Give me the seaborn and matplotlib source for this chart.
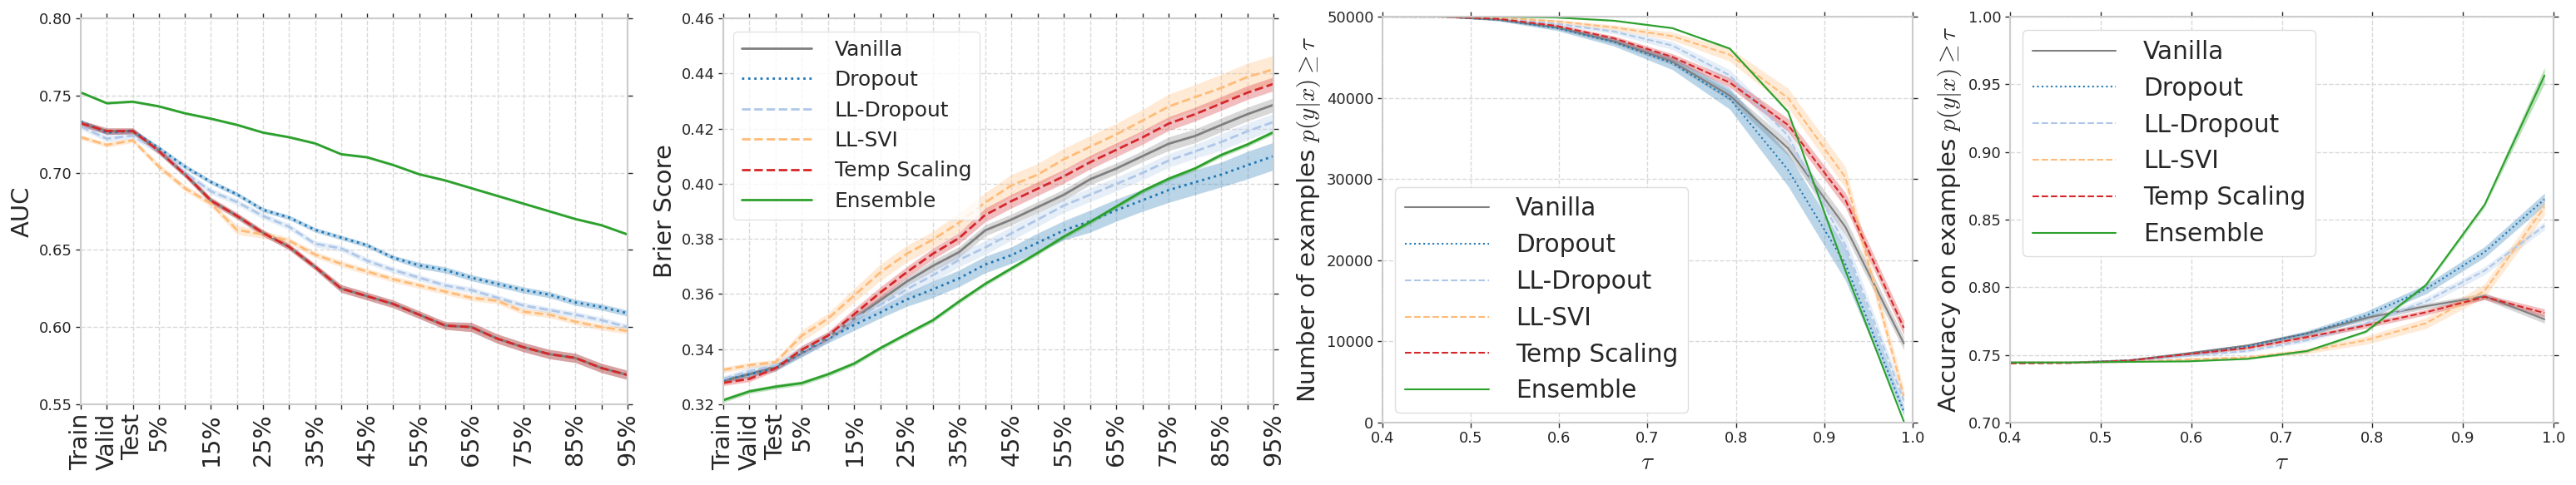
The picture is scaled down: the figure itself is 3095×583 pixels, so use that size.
import numpy as np
import seaborn as sns
from matplotlib import pyplot as plt

# methods and their look
methods = ["Vanilla", "Dropout", "LL-Dropout", "LL-SVI", "Temp Scaling", "Ensemble"]
colors = ["#7f7f7f", "#1f77b4", "#aec7e8", "#ffbb78", "#d62728", "#2ca02c"]
styles = ["-", ":", "--", "--", "--", "-"]

# shift levels (panels 1 and 2)
shift_labels = ["Train", "Valid", "Test", "5%", "", "15%", "", "25%", "", "35%", "", "45%",
                "", "55%", "", "65%", "", "75%", "", "85%", "", "95%"]

# AUC
auc_vanilla = [0.732, 0.727, 0.727, 0.714, 0.699, 0.682, 0.672, 0.661, 0.652, 0.639, 0.625,
               0.620, 0.615, 0.608, 0.601, 0.600, 0.5925, 0.587, 0.5825, 0.580, 0.5735, 0.569]
auc_dropout = [0.733, 0.726, 0.727, 0.716, 0.704, 0.694, 0.686, 0.676, 0.671, 0.663, 0.658,
               0.653, 0.645, 0.640, 0.637, 0.632, 0.628, 0.624, 0.621, 0.616, 0.613, 0.609]
auc_ll_dropout = [0.730, 0.722, 0.724, 0.714, 0.700, 0.688, 0.681, 0.672, 0.665, 0.654, 0.651,
                  0.643, 0.637, 0.632, 0.627, 0.624, 0.619, 0.614, 0.611, 0.608, 0.6045, 0.600]
auc_ll_svi = [0.723, 0.718, 0.721, 0.704, 0.690, 0.680, 0.663, 0.660, 0.656, 0.647, 0.641,
              0.636, 0.631, 0.627, 0.623, 0.619, 0.617, 0.610, 0.608, 0.6035, 0.600, 0.5975]
auc_temp = [0.732, 0.727, 0.727, 0.714, 0.699, 0.682, 0.672, 0.661, 0.652, 0.639, 0.625,
            0.620, 0.615, 0.608, 0.601, 0.600, 0.5925, 0.587, 0.5825, 0.580, 0.5735, 0.569]
auc_ensemble = [0.752, 0.745, 0.746, 0.743, 0.7385, 0.735, 0.731, 0.726, 0.723, 0.719, 0.712,
                0.710, 0.705, 0.699, 0.695, 0.690, 0.685, 0.680, 0.675, 0.670, 0.666, 0.660]

# AUC band half widths
auc_vanilla_sd = [0.002, 0.002, 0.002, 0.002, 0.002, 0.002, 0.002, 0.002, 0.002, 0.002, 0.0025,
                  0.0025, 0.0025, 0.0025, 0.0025, 0.003, 0.003, 0.003, 0.003, 0.003, 0.003, 0.003]
auc_dropout_sd = [0.0015, 0.0015, 0.0015, 0.0015, 0.0015, 0.0015, 0.0015, 0.0015, 0.0015, 0.0015,
                  0.0015, 0.0015, 0.0015, 0.002, 0.002, 0.002, 0.002, 0.002, 0.002, 0.002, 0.002, 0.002]
auc_ll_dropout_sd = [0.002, 0.002, 0.002, 0.002, 0.002, 0.002, 0.002, 0.002, 0.002, 0.002, 0.002,
                     0.002, 0.002, 0.002, 0.002, 0.002, 0.002, 0.002, 0.002, 0.002, 0.002, 0.002]
auc_ll_svi_sd = [0.0015, 0.0015, 0.0015, 0.002, 0.002, 0.002, 0.003, 0.0025, 0.002, 0.002, 0.002,
                 0.002, 0.002, 0.002, 0.002, 0.002, 0.002, 0.002, 0.002, 0.002, 0.002, 0.002]
auc_temp_sd = [0.002, 0.002, 0.002, 0.002, 0.002, 0.002, 0.002, 0.002, 0.002, 0.002, 0.0025,
               0.0025, 0.0025, 0.0025, 0.0025, 0.003, 0.003, 0.003, 0.003, 0.003, 0.003, 0.003]
auc_ensemble_sd = [0.0008] * 22

# Brier score
brier_vanilla = [0.3286, 0.3309, 0.3337, 0.3389, 0.3443, 0.3511, 0.3578, 0.3645, 0.3702, 0.3752,
                 0.3831, 0.3870, 0.3915, 0.3960, 0.4016, 0.4055, 0.4100, 0.4145, 0.4173, 0.4213,
                 0.4252, 0.4286]
brier_dropout = [0.3288, 0.3309, 0.3331, 0.3387, 0.3438, 0.3488, 0.3533, 0.3580, 0.3617, 0.3657,
                 0.3707, 0.3741, 0.3786, 0.3831, 0.3864, 0.3904, 0.3940, 0.3977, 0.4005, 0.4033,
                 0.4067, 0.4100]
brier_ll_dropout = [0.3292, 0.3320, 0.3342, 0.3393, 0.3443, 0.3511, 0.3561, 0.3617, 0.3668, 0.3724,
                    0.3769, 0.3820, 0.3870, 0.3921, 0.3960, 0.3999, 0.4039, 0.4084, 0.4117, 0.4151,
                    0.4190, 0.4224]
brier_ll_svi = [0.3325, 0.3342, 0.3353, 0.3449, 0.3511, 0.3595, 0.3679, 0.3746, 0.3797, 0.3859,
                0.3932, 0.3994, 0.4033, 0.4089, 0.4134, 0.4179, 0.4229, 0.4280, 0.4314, 0.4347,
                0.4387, 0.4415]
brier_temp = [0.3278, 0.3292, 0.3331, 0.3398, 0.3449, 0.3527, 0.3606, 0.3679, 0.3746, 0.3803,
              0.3887, 0.3937, 0.3982, 0.4027, 0.4078, 0.4123, 0.4168, 0.4218, 0.4252, 0.4291,
              0.4330, 0.4362]
brier_ensemble = [0.3215, 0.3247, 0.3264, 0.3277, 0.3309, 0.3348, 0.3404, 0.3455, 0.3505, 0.3573,
                  0.3637, 0.3693, 0.3749, 0.3808, 0.3861, 0.3917, 0.3973, 0.4018, 0.4055, 0.4104,
                  0.4142, 0.4187]

brier_vanilla_sd = [0.001, 0.001, 0.001, 0.0015, 0.0015, 0.0015, 0.0015, 0.0015, 0.002, 0.002, 0.002,
                    0.002, 0.002, 0.002, 0.002, 0.002, 0.002, 0.0025, 0.0025, 0.0025, 0.0025, 0.0025]
brier_dropout_sd = [0.0008, 0.001, 0.001, 0.0015, 0.0015, 0.002, 0.002, 0.0025, 0.003, 0.003, 0.003,
                    0.003, 0.0035, 0.0035, 0.004, 0.004, 0.004, 0.0045, 0.0045, 0.0045, 0.005, 0.005]
brier_ll_dropout_sd = [0.001, 0.0015, 0.0015, 0.002, 0.002, 0.002, 0.0025, 0.0025, 0.0025, 0.0025,
                       0.0025, 0.0025, 0.0025, 0.0025, 0.0025, 0.0025, 0.0025, 0.0025, 0.0025, 0.003,
                       0.003, 0.003]
brier_ll_svi_sd = [0.001, 0.001, 0.001, 0.002, 0.002, 0.0025, 0.003, 0.003, 0.003, 0.0035, 0.0035,
                   0.004, 0.004, 0.004, 0.004, 0.004, 0.004, 0.0045, 0.0045, 0.005, 0.005, 0.005]
brier_temp_sd = [0.001, 0.001, 0.001, 0.0015, 0.0015, 0.002, 0.002, 0.002, 0.002, 0.002, 0.0025,
                 0.0025, 0.0025, 0.0025, 0.0025, 0.0025, 0.0025, 0.0025, 0.0025, 0.0025, 0.0025, 0.0025]
brier_ensemble_sd = [0.0008] * 22

# confidence thresholds (panels 3 and 4)
tau = [0.4, 0.466, 0.531, 0.597, 0.662, 0.728, 0.793, 0.859, 0.924, 0.99]

count_vanilla = [50000, 49990, 49620, 48670, 46950, 44470, 40280, 33790, 24070, 9760]
count_dropout = [50000, 49990, 49620, 48590, 46870, 44280, 39900, 31120, 19500, 1370]
count_ll_dropout = [50000, 50000, 49810, 49120, 48170, 46450, 42760, 35320, 21800, 2710]
count_ll_svi = [50000, 50000, 49890, 49430, 48670, 47600, 45310, 39970, 30170, 3280]
count_temp = [50000, 49990, 49730, 48860, 47330, 45040, 41880, 36650, 27390, 11670]
count_ensemble = [50000, 50000, 49990, 49890, 49500, 48590, 46070, 38290, 18700, 150]

count_vanilla_sd = [0, 0, 100, 200, 300, 400, 600, 900, 1000, 800]
count_dropout_sd = [0, 0, 150, 300, 500, 800, 1300, 2000, 2000, 600]
count_ll_dropout_sd = [0, 0, 100, 200, 300, 500, 700, 1000, 1200, 700]
count_ll_svi_sd = [0, 0, 100, 200, 300, 500, 800, 1200, 1300, 1000]
count_temp_sd = [0, 0, 100, 200, 300, 400, 600, 800, 900, 900]
count_ensemble_sd = [0, 0, 50, 50, 100, 100, 150, 200, 200, 150]

acc_vanilla = [0.7444, 0.7444, 0.7460, 0.7513, 0.7570, 0.7659, 0.7773, 0.7860, 0.7934, 0.7764]
acc_dropout = [0.7444, 0.7444, 0.7460, 0.7506, 0.7563, 0.7659, 0.7792, 0.7986, 0.8261, 0.8650]
acc_ll_dropout = [0.7444, 0.7444, 0.7453, 0.7494, 0.7529, 0.7609, 0.7734, 0.7895, 0.8123, 0.8455]
acc_ll_svi = [0.7444, 0.7444, 0.7449, 0.7467, 0.7483, 0.7529, 0.7609, 0.7734, 0.7975, 0.8592]
acc_temp = [0.7437, 0.7440, 0.7458, 0.7506, 0.7551, 0.7632, 0.7718, 0.7815, 0.7929, 0.7810]
acc_ensemble = [0.7444, 0.7444, 0.7449, 0.7453, 0.7471, 0.7529, 0.7673, 0.8016, 0.8611, 0.9565]

acc_vanilla_sd = [0, 0, 0.0005, 0.001, 0.001, 0.0015, 0.002, 0.002, 0.0025, 0.003]
acc_dropout_sd = [0, 0, 0.0005, 0.001, 0.0015, 0.002, 0.003, 0.0035, 0.004, 0.0045]
acc_ll_dropout_sd = [0, 0, 0.0005, 0.001, 0.001, 0.0015, 0.002, 0.003, 0.003, 0.003]
acc_ll_svi_sd = [0, 0, 0.0005, 0.001, 0.001, 0.002, 0.003, 0.004, 0.005, 0.006]
acc_temp_sd = [0, 0, 0.0005, 0.001, 0.001, 0.0015, 0.002, 0.002, 0.002, 0.003]
acc_ensemble_sd = [0, 0, 0.0003, 0.0005, 0.0005, 0.001, 0.001, 0.0015, 0.002, 0.006]

W, H = 3095, 583


def setup_style():
    sns.set_theme(style="whitegrid", rc={
        "grid.linestyle": "--", "grid.color": "#d9d9d9", "grid.linewidth": 1.0,
        "axes.edgecolor": "#cccccc", "axes.linewidth": 1.5,
        "xtick.bottom": True, "xtick.top": True, "ytick.left": True, "ytick.right": True,
        "xtick.major.size": 4, "ytick.major.size": 4,
        "xtick.major.width": 1.0, "ytick.major.width": 1.0,
        "xtick.color": "#262626", "ytick.color": "#262626",
        "text.color": "#262626", "axes.labelcolor": "#262626",
        "mathtext.fontset": "cm",
    })
    plt.rcParams["font.family"] = ["DejaVu Sans"]


def pixel_axes(fig, left, top, right, bottom):
    return fig.add_axes([left / W, (H - bottom) / H, (right - left) / W, (bottom - top) / H])


def draw_lines(ax, x, means, bands, lw):
    for name, color, ls in zip(methods, colors, styles):
        y = np.array(means[name])
        b = np.array(bands[name])
        ax.fill_between(x, y - b, y + b, color=color, alpha=0.3, lw=0)
        sns.lineplot(x=x, y=y, ax=ax, color=color, linestyle=ls, linewidth=lw,
                     label=name, errorbar=None)


def add_legend(ax, loc, anchor, fontsize, alpha):
    leg = ax.legend(loc=loc, bbox_to_anchor=anchor, borderaxespad=0, fontsize=fontsize,
                    handlelength=3.4, handletextpad=1.1, frameon=True, framealpha=alpha,
                    fancybox=True)
    leg.get_frame().set_edgecolor("#dddddd")
    leg.get_frame().set_facecolor("white")


def shift_panel(ax, means, bands, ylim, yticks, ylabel):
    x = list(range(len(shift_labels)))
    draw_lines(ax, x, means, bands, 2.0)
    ax.set_xlim(0, len(shift_labels) - 1)
    ax.set_ylim(*ylim)
    ax.set_xticks(x)
    ax.set_xticklabels(shift_labels, rotation=90, fontsize=20.5)
    ax.set_yticks(yticks)
    ax.set_yticklabels(["%.2f" % t for t in yticks], fontsize=13)
    ax.set_ylabel(ylabel, fontsize=21)
    ax.set_xlabel("")
    ax.tick_params(axis="both", direction="out")


def tau_panel(ax, means, bands, ylim, yticks, ytickfmt, ylabel):
    draw_lines(ax, tau, means, bands, 1.5)
    ax.set_xlim(0.4, 1.0)
    ax.set_ylim(*ylim)
    ax.set_xticks([0.4, 0.5, 0.6, 0.7, 0.8, 0.9, 1.0])
    ax.set_xticklabels(["0.4", "0.5", "0.6", "0.7", "0.8", "0.9", "1.0"], fontsize=13)
    ax.set_yticks(yticks)
    ax.set_yticklabels([ytickfmt % t for t in yticks], fontsize=13)
    ax.set_ylabel(ylabel, fontsize=21)
    ax.set_xlabel(r"$\tau$", fontsize=21)
    ax.tick_params(axis="both", direction="out")


def main():
    setup_style()
    fig = plt.figure(figsize=(W / 100, H / 100), dpi=100)

    ax1 = pixel_axes(fig, 97, 22, 754, 486)
    shift_panel(ax1,
                dict(zip(methods, [auc_vanilla, auc_dropout, auc_ll_dropout, auc_ll_svi, auc_temp, auc_ensemble])),
                dict(zip(methods, [auc_vanilla_sd, auc_dropout_sd, auc_ll_dropout_sd, auc_ll_svi_sd,
                                   auc_temp_sd, auc_ensemble_sd])),
                (0.55, 0.80), [0.55, 0.60, 0.65, 0.70, 0.75, 0.80], "AUC")
    ax1.get_legend().remove()

    ax2 = pixel_axes(fig, 869, 22, 1530, 486)
    shift_panel(ax2,
                dict(zip(methods, [brier_vanilla, brier_dropout, brier_ll_dropout, brier_ll_svi,
                                   brier_temp, brier_ensemble])),
                dict(zip(methods, [brier_vanilla_sd, brier_dropout_sd, brier_ll_dropout_sd, brier_ll_svi_sd,
                                   brier_temp_sd, brier_ensemble_sd])),
                (0.32, 0.46), [0.32, 0.34, 0.36, 0.38, 0.40, 0.42, 0.44, 0.46], "Brier Score")
    add_legend(ax2, "upper left", (0.018, 0.966), 17.9, 0.8)

    ax3 = pixel_axes(fig, 1661, 20, 2298, 508)
    tau_panel(ax3,
              dict(zip(methods, [count_vanilla, count_dropout, count_ll_dropout, count_ll_svi,
                                 count_temp, count_ensemble])),
              dict(zip(methods, [count_vanilla_sd, count_dropout_sd, count_ll_dropout_sd, count_ll_svi_sd,
                                 count_temp_sd, count_ensemble_sd])),
              (0, 50000), [0, 10000, 20000, 30000, 40000, 50000], "%d",
              r"Number of examples $p(y|x) \geq \tau$")
    add_legend(ax3, "lower left", (0.024, 0.024), 21.3, 1.0)

    ax4 = pixel_axes(fig, 2415, 20, 3068, 508)
    tau_panel(ax4,
              dict(zip(methods, [acc_vanilla, acc_dropout, acc_ll_dropout, acc_ll_svi, acc_temp, acc_ensemble])),
              dict(zip(methods, [acc_vanilla_sd, acc_dropout_sd, acc_ll_dropout_sd, acc_ll_svi_sd,
                                 acc_temp_sd, acc_ensemble_sd])),
              (0.70, 1.00), [0.70, 0.75, 0.80, 0.85, 0.90, 0.95, 1.00], "%.2f",
              r"Accuracy on examples $p(y|x) \geq \tau$")
    add_legend(ax4, "upper left", (0.023, 0.967), 21.3, 1.0)

    fig.savefig("out.png", dpi=100)
    print("Figure saved.")


main()
